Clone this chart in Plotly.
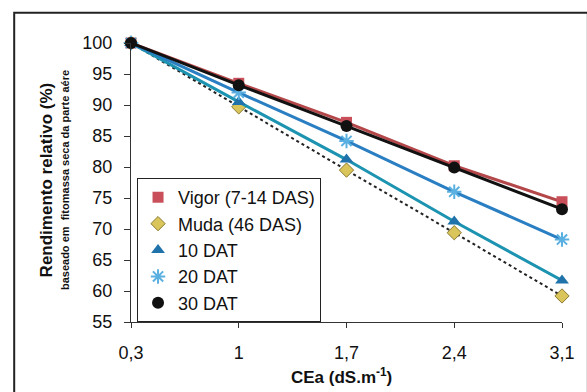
import plotly.graph_objects as go

# Data
cea = [0.3, 1.0, 1.7, 2.4, 3.1]
tick_labels = ["0,3", "1", "1,7", "2,4", "3,1"]
y_ticks = [55, 60, 65, 70, 75, 80, 85, 90, 95, 100]
vigor = [100, 93.5, 87.2, 80.2, 74.4]
muda = [100, 89.7, 79.5, 69.4, 59.2]
dat10 = [100, 90.5, 81.2, 71.2, 61.7]
dat20 = [100, 92.0, 84.2, 76.0, 68.3]
dat30 = [100, 93.2, 86.6, 79.9, 73.2]

FONT = "Liberation Sans, Arial, sans-serif"

series = [
    ("Vigor (7-14 DAS)", vigor, dict(color="#b4474a", width=3),
     dict(symbol="square", size=11, color="#c9505a")),
    ("Muda (46 DAS)", muda, dict(color="#222222", width=2, dash="dot"),
     dict(symbol="diamond", size=11, color="#d9c55a", line=dict(color="#8a7a30", width=1))),
    ("10 DAT", dat10, dict(color="#1c93b0", width=3),
     dict(symbol="triangle-up", size=12, color="#1f72aa")),
    ("20 DAT", dat20, dict(color="#2a7ec2", width=3),
     dict(symbol="asterisk", size=12, color="#5ab0e0", line=dict(color="#5ab0e0", width=2))),
    ("30 DAT", dat30, dict(color="#111111", width=3),
     dict(symbol="circle", size=12, color="#111111")),
]

fig = go.Figure()
for name, ys, line, marker in series:
    fig.add_trace(go.Scatter(x=cea, y=ys, mode="lines", line=line, showlegend=False,
                             legendgroup=name, hoverinfo="skip", cliponaxis=False))
    fig.add_trace(go.Scatter(x=cea, y=ys, name=name, mode="markers", marker=marker,
                             legendgroup=name, cliponaxis=False))

fig.update_layout(
    width=587, height=392,
    margin=dict(l=131, r=18, t=43, b=70),
    paper_bgcolor="white", plot_bgcolor="white",
    font=dict(family=FONT, color="#111111"),
    showlegend=True,
    legend=dict(x=0.014, y=0.516, xanchor="left", yanchor="top",
                bordercolor="#222222", borderwidth=1, bgcolor="white",
                font=dict(size=18, family=FONT), tracegroupgap=0, itemwidth=30),
    xaxis=dict(range=[0.3, 3.1], tickvals=cea, ticktext=tick_labels,
               showgrid=False, zeroline=False, showline=True, linecolor="#333333", linewidth=1,
               ticks="outside", ticklen=5, tickcolor="#333333",
               tickfont=dict(size=18, family=FONT), ticklabelstandoff=9),
    yaxis=dict(range=[55, 100], tickvals=y_ticks,
               showgrid=False, zeroline=False, showline=True, linecolor="#333333", linewidth=1,
               ticks="outside", ticklen=6, tickcolor="#333333",
               tickfont=dict(size=18, family=FONT), ticklabelstandoff=8),
    shapes=[dict(type="rect", xref="paper", yref="paper", x0=-0.271, x1=1.06, y0=-0.3, y1=1.108,
                 line=dict(color="#222222", width=2), fillcolor="rgba(0,0,0,0)", layer="below")],
    annotations=[
        dict(text="<b>Rendimento relativo (%)</b>", xref="paper", yref="paper",
             x=-0.194, y=0.509, xanchor="center", yanchor="middle", textangle=-90,
             showarrow=False, font=dict(size=17, family=FONT)),
        dict(text="<b>baseado em  fitomassa seca da parte aére</b>", xref="paper", yref="paper",
             x=-0.153, y=0.509, xanchor="center", yanchor="middle", textangle=-90,
             showarrow=False, font=dict(size=11, family=FONT)),
        dict(text="<b>CEa (dS.m<sup>-1</sup>)</b>", xref="paper", yref="paper",
             x=0.489, y=-0.194, xanchor="center", yanchor="middle",
             showarrow=False, font=dict(size=17, family=FONT)),
    ],
)

fig.write_html("out.html")
